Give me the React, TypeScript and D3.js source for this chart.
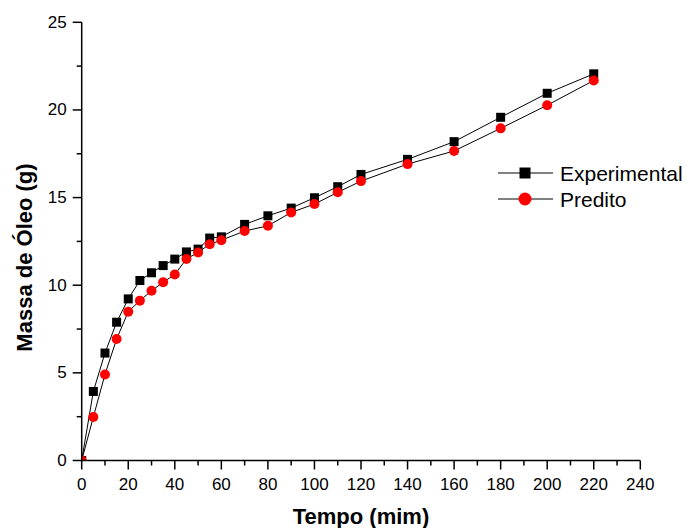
import React from "react";
import * as d3 from "d3";

// Extraction time (min) and oil mass (g)
const time = [0, 5, 10, 15, 20, 25, 30, 35, 40, 45, 50, 55, 60, 70, 80, 90, 100, 110, 120, 140, 160, 180, 200, 220];
const experimental = [0, 3.94, 6.13, 7.89, 9.22, 10.27, 10.71, 11.12, 11.49, 11.9, 12.06, 12.69, 12.76, 13.47, 13.96, 14.4, 14.99, 15.62, 16.32, 17.18, 18.19, 19.58, 20.95, 22.06];
const predicted = [0, 2.48, 4.91, 6.93, 8.49, 9.12, 9.68, 10.17, 10.61, 11.5, 11.87, 12.34, 12.57, 13.09, 13.39, 14.15, 14.63, 15.3, 15.94, 16.91, 17.66, 18.95, 20.27, 21.68];

const xMajorTicks = [0, 20, 40, 60, 80, 100, 120, 140, 160, 180, 200, 220, 240];
const xMinorTicks = [10, 30, 50, 70, 90, 110, 130, 150, 170, 190, 210, 230];
const yMajorTicks = [0, 5, 10, 15, 20, 25];
const yMinorTicks = [2.5, 7.5, 12.5, 17.5, 22.5];

const seriesNames = ["Experimental", "Predito"];
const xTitle = "Tempo (mim)";
const yTitle = "Massa de Óleo (g)";

const W = 686;
const H = 528;
const FONT = "'Liberation Sans', Arial, Helvetica, sans-serif";

export default function App() {
  const x = d3.scaleLinear().domain([0, 240]).range([81.7, 640.3]);
  const y = d3.scaleLinear().domain([0, 25]).range([460.5, 22.3]);

  const expPts = time.map((t, i) => [t, experimental[i]] as [number, number]);
  const predPts = time.map((t, i) => [t, predicted[i]] as [number, number]);

  const line = d3
    .line<[number, number]>()
    .x((d) => x(d[0]))
    .y((d) => y(d[1]));

  const x0 = x(0);
  const y0 = y(0);
  const sq = 9;
  const r = 5;

  const legendX1 = 498;
  const legendX2 = 553;
  const legendMid = 525;
  const legendRows = [173, 199];

  return (
    <svg
      width={W}
      height={H}
      style={{ position: "absolute", left: 0, top: 0, background: "#fff" }}
      fontFamily={FONT}
    >
      <defs>
        <clipPath id="plot-area">
          <rect x={x0} y={y(25) - 2} width={x(240) - x0} height={y0 - y(25) + 2} />
        </clipPath>
      </defs>

      <g clipPath="url(#plot-area)">
        <path d={line(expPts) ?? ""} fill="none" stroke="#000" strokeWidth={1} />
        {expPts.map((d, i) => (
          <rect key={`s${i}`} x={x(d[0]) - sq / 2} y={y(d[1]) - sq / 2} width={sq} height={sq} fill="#000" />
        ))}
        <path d={line(predPts) ?? ""} fill="none" stroke="#000" strokeWidth={1} />
        {predPts.map((d, i) => (
          <circle key={`c${i}`} cx={x(d[0])} cy={y(d[1])} r={r} fill="#ff0000" />
        ))}
      </g>

      {/* Axes */}
      <g stroke="#000" strokeWidth={1.5}>
        <line x1={x0} y1={y(25)} x2={x0} y2={y0 + 0.75} />
        <line x1={x0 - 0.75} y1={y0} x2={x(240)} y2={y0} />
        {yMajorTicks.map((v) => (
          <line key={`ym${v}`} x1={x0 - 9} x2={x0} y1={y(v)} y2={y(v)} />
        ))}
        {yMinorTicks.map((v) => (
          <line key={`yn${v}`} x1={x0 - 5} x2={x0} y1={y(v)} y2={y(v)} />
        ))}
        {xMajorTicks.map((v) => (
          <line key={`xm${v}`} x1={x(v)} x2={x(v)} y1={y0} y2={y0 + 9} />
        ))}
        {xMinorTicks.map((v) => (
          <line key={`xn${v}`} x1={x(v)} x2={x(v)} y1={y0} y2={y0 + 5} />
        ))}
      </g>

      <g fontSize={17} fill="#000">
        {yMajorTicks.map((v) => (
          <text key={`yl${v}`} x={x0 - 15} y={y(v)} textAnchor="end" dominantBaseline="central">
            {v}
          </text>
        ))}
        {xMajorTicks.map((v) => (
          <text key={`xl${v}`} x={x(v)} y={490} textAnchor="middle">
            {v}
          </text>
        ))}
      </g>

      <text x={(x0 + x(240)) / 2} y={524} textAnchor="middle" fontSize={22} fontWeight="bold">
        {xTitle}
      </text>
      <text
        transform={`translate(32, ${257.5}) rotate(-90)`}
        textAnchor="middle"
        fontSize={22}
        fontWeight="bold"
      >
        {yTitle}
      </text>

      {/* Legend */}
      {seriesNames.map((name, i) => (
        <g key={name}>
          <line x1={legendX1} x2={legendX2} y1={legendRows[i]} y2={legendRows[i]} stroke="#000" strokeWidth={1} />
          {i === 0 ? (
            <rect x={legendMid - 5.5} y={legendRows[i] - 5.5} width={11} height={11} fill="#000" />
          ) : (
            <circle cx={legendMid} cy={legendRows[i]} r={6.5} fill="#ff0000" />
          )}
          <text x={560} y={legendRows[i]} fontSize={21} dominantBaseline="central">
            {name}
          </text>
        </g>
      ))}
    </svg>
  );
}
